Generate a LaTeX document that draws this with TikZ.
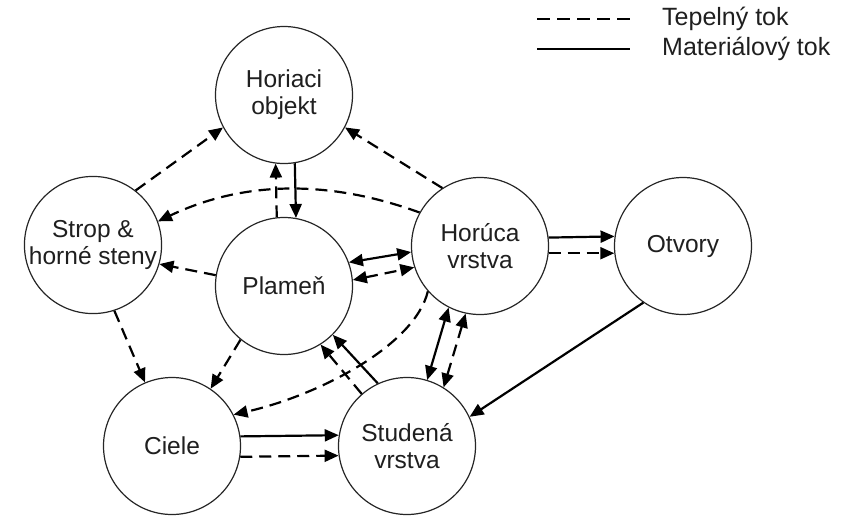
\documentclass[tikz,border=0pt]{standalone}
\usepackage{fontspec}
\setmainfont{Liberation Sans}
\usetikzlibrary{arrows.meta}
\begin{document}
\begin{tikzpicture}[x=1pt,y=-1pt,
  >={Triangle[length=14pt,width=12pt]},
  state/.style={circle,draw=black!85,line width=1.2pt,minimum size=137pt,inner sep=0pt,
    align=center,font=\fontsize{24.5}{27}\selectfont,text=black!88,fill=white},
  heat/.style={line width=2.2pt,dash pattern=on 12pt off 7pt},
  mat/.style={line width=2.2pt},
  legtext/.style={anchor=west,inner sep=0pt,text=black!88,font=\fontsize{25}{28}\selectfont}
  ]
\useasboundingbox (0,0) rectangle (851,523);

% nodes
\node[state] (H)  at (284,95)  {Horiaci\\objekt};
\node[state] (S)  at (93,245)  {Strop \&\\horné steny};
\node[state] (P)  at (284,286) {Plameň};
\node[state] (HV) at (480,246) {Horúca\\vrstva};
\node[state] (O)  at (683,246) {Otvory};
\node[state] (C)  at (172,446) {Ciele};
\node[state] (SV) at (407,446) {Studená\\vrstva};

% legend
\coordinate (l1a) at (537,19);
\coordinate (l1b) at (630,19);
\coordinate (l2a) at (537,49);
\coordinate (l2b) at (630,49);
\draw[line width=1.6pt,dash pattern=on 13pt off 7pt] (l1a) -- (l1b);
\draw[line width=1.6pt] (l2a) -- (l2b);
\node[legtext] (t1) at (662,19) {Tepelný tok};
\node[legtext] (t2) at (662,49) {Materiálový tok};

% connectors
\draw[heat,->] (S.52) -- (H.208);
\draw[heat,->] (HV.123) -- (H.332);
\draw[heat,->] (P.96.7) -- (H.263.3);
\draw[mat,->]  (H.279.2) -- (P.80.8);
\draw[heat,->] (HV.151) .. controls (330,180) and (245,180) .. (S.20);
\draw[heat,->] (P.171) -- (S.344);
\draw[mat,<->] (P.20) -- (HV.185);
\draw[heat,<->] (P.5.8) -- (HV.198);
\draw[mat,->]  (HV.7.5) -- (O.172.5);
\draw[heat,->] (HV.354) -- (O.186);
\draw[heat,->] (S.288) -- (C.113.7);
\draw[heat,->] (P.231) -- (C.56.7);
\draw[heat,->] (HV.221.5) .. controls (415,345) and (320,395) .. (C.27);
\draw[mat,->]  (SV.115) -- (P.315);
\draw[heat,->] (SV.131) -- (P.302);
\draw[mat,->]  (C.8.4) -- (SV.171.6);
\draw[heat,->] (C.351.6) -- (SV.188.4);
\draw[mat,<->] (HV.243) -- (SV.73.6);
\draw[heat,<->] (HV.258) -- (SV.58);
\draw[mat,->]  (O.235) -- (SV.25.5);
\end{tikzpicture}
\end{document}
